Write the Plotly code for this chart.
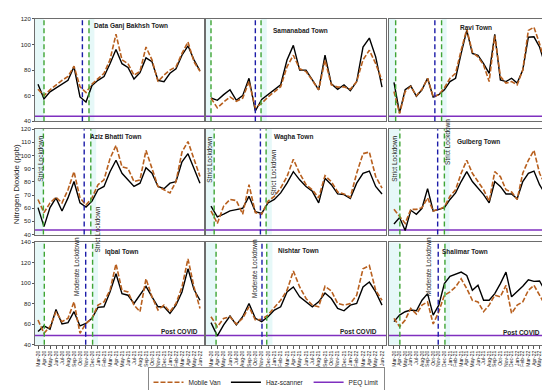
import plotly.graph_objects as go

# ---------------- data ----------------
months = ["Mar-20", "Apr-20", "May-20", "Jun-20", "Jul-20", "Aug-20", "Sep-20", "Oct-20",
          "Nov-20", "Dec-20", "Jan-21", "Feb-21", "Mar-21", "Apr-21", "May-21", "Jun-21",
          "Jul-21", "Aug-21", "Sep-21", "Oct-21", "Nov-21", "Dec-21", "Jan-22", "Feb-22",
          "Mar-22", "Apr-22", "May-22", "Jun-22"]

towns = ["Data Ganj Bakhsh Town", "Samanabad Town", "Ravi Town",
         "Aziz Bhatti Town", "Wagha Town", "Gulberg Town",
         "Iqbal Town", "Nishtar Town", "Shalimar Town"]

van_dgb = [65, 60, 64.6, 68.5, 72, 75, 83, 67, 62.5, 69, 73.6, 77.5, 88, 108, 88, 85, 76, 79,
           98, 88, 71, 76, 80, 82.6, 93, 102, 86.5, 79]
haz_dgb = [69, 57.5, 63, 66, 69, 72, 82.6, 59, 55, 68, 72, 75, 85, 96, 85, 82, 73, 78,
           89.5, 86.5, 72, 71, 77.5, 81, 91.6, 99, 88, 79.5]

van_sam = [58, 50.5, 55, 59, 55.6, 58, 71, 50.5, 54, 59, 63, 67, 82.6, 91.6, 81, 78.8, 72,
           64.6, 87.8, 68.5, 66.7, 67, 65, 71, 88, 95.5, 85, 72]
haz_sam = [58.2, 56.4, 60.8, 64.6, 56.4, 60, 73.6, 48, 57, 60.8, 64.6, 68.5, 87.8, 99.3, 80,
           80, 72.3, 64.6, 91.6, 69.3, 65, 68.5, 63.9, 71, 98, 105, 90.3, 66.7]

van_ravi = [63.3, 46, 63.3, 67.2, 60, 65, 73.6, 59, 60.8, 66, 73.6, 77.5, 95.5, 112, 94,
            90.3, 84, 71, 107, 75, 69.8, 71, 68.5, 80, 111, 113.5, 100.6, 85]
haz_ravi = [70.3, 46.6, 64.6, 67.7, 59.5, 64.6, 73.6, 59, 60.8, 64.6, 71, 73.6, 93, 111, 93,
            91.6, 85, 77.5, 108, 72.3, 71, 73.6, 69.8, 80, 105.7, 106, 98, 84]

van_aziz = [66.6, 56.6, 64, 68.3, 64, 74, 87.7, 67.8, 62.4, 67.8, 77.8, 81.5, 97.6, 107.6,
            91.4, 90.2, 80.2, 81.5, 103.9, 90.2, 76.5, 74, 71.5, 80.2, 102.6, 110.6, 97.6, 84]
haz_aziz = [60.4, 46, 60.4, 67.8, 57.9, 67.8, 80.2, 64, 60.9, 65.3, 74, 76.5, 87.7, 96.4,
            86.5, 81.5, 76.5, 79, 90.7, 86.5, 76.5, 74.8, 79, 80.2, 95.2, 101.4, 90.2, 79]

van_wagha = [57.9, 48.4, 61.6, 66.6, 65.8, 55.4, 77.8, 56.6, 55.4, 65.3, 69, 75.3, 84, 97.1,
             86.5, 77.8, 74, 67.8, 84.7, 80.2, 72.3, 70.8, 68.3, 86.5, 101.4, 102.6, 84, 75.3]
haz_wagha = [61.6, 53.4, 55.4, 57.9, 58.9, 59.9, 69, 57.4, 56, 64, 66.6, 71.6, 79, 87.7,
             81.5, 76.5, 72.8, 64, 82.7, 77.8, 70.8, 70.3, 67.3, 79, 86.5, 88.2, 76.5, 70.8]

van_gul = [59.1, 53.4, 48.4, 59.1, 59.1, 60.4, 67.8, 57.9, 59.1, 60.9, 69, 74, 86.5, 96.4,
           86.5, 80.2, 74, 65.3, 87.7, 84, 74, 72.3, 66.6, 86.5, 96.4, 103.9, 86.5, 77.8]
haz_gul = [48, 52.9, 43, 58.4, 55.4, 59.9, 74.8, 57.9, 59.1, 60.4, 66.6, 71.6, 80.2, 87.7,
           80.2, 75.3, 70.3, 64, 80.2, 76.5, 70.8, 70.8, 67.1, 80.2, 86.5, 88.2, 77.8, 70.8]

van_iqbal = [64.2, 51.3, 57.7, 72.3, 62.6, 65.8, 81.9, 51.3, 61, 65.8, 78.7, 81.9, 93.2, 119,
             93.2, 91.6, 78.7, 72.3, 104.5, 86.8, 73.9, 78.7, 72.3, 80.3, 96.5, 123.9, 96.5, 75.5]
haz_iqbal = [52.9, 58.4, 55.2, 74.5, 60.3, 61.6, 72.3, 58.4, 61, 65.8, 76.5, 77.1, 91.6,
             109.4, 90, 88.4, 80.3, 88.4, 97.1, 86.8, 77.1, 77.1, 70.6, 78.7, 91.6, 114.2, 93.9, 83.5]

van_nish = [67.4, 57.7, 65.8, 67.4, 60.3, 65.8, 77.1, 64.2, 64.8, 69, 76.5, 83.5, 93.2, 112,
            96.5, 85.2, 78.7, 77.1, 97.1, 92.6, 80.3, 78.7, 80.3, 88.4, 114.2, 117.4, 93.2, 83.5]
haz_nish = [61.6, 48.7, 59.4, 68.1, 59.4, 67.4, 80.3, 65.8, 62.6, 67.4, 73.9, 77.1, 91.6,
            96.5, 86.8, 81.9, 77.1, 81.9, 90.6, 85.2, 75.5, 73.2, 78.7, 80.3, 96.5, 101.3, 91.6, 78.7]

van_shal = [65.8, 57.7, 64.2, 75.5, 70, 78.7, 81.9, 60.3, 72.3, 88.4, 91.6, 96.5, 104.5, 94.8,
            83.5, 81.9, 72.3, 78.7, 88.4, 86.8, 98.1, 70.6, 78.7, 81.9, 93.2, 98.1, 88.4, 78.7]
haz_shal = [62.6, 69, 72.3, 73.9, 73.2, 83.5, 90, 69, 78.7, 99.7, 106.8, 108.7, 111, 107.7,
            93.2, 98.1, 83.5, 83.5, 90, 99.7, 111, 86.8, 91.6, 97.1, 103.5, 101.9, 102.3, 92.6]

mobile_van = [van_dgb, van_sam, van_ravi, van_aziz, van_wagha, van_gul, van_iqbal, van_nish, van_shal]
haz_scanner = [haz_dgb, haz_sam, haz_ravi, haz_aziz, haz_wagha, haz_gul, haz_iqbal, haz_nish, haz_shal]

peq_limit = [44, 44, 44, 43.5, 43.5, 43.5, 49, 49, 49]

# lockdown event positions (month index) per panel
strict_start = [1.0, 0.0, 0.3, 0.9, 0.5, 1.05, 1.05, 0.8, 1.05]
moderate_line = [7.4, 7.0, 7.3, 7.7, 7.8, 7.8, 7.95, 8.05, 7.9]
strict_end = [8.5, 7.9, 8.5, 8.8, 8.7, 9.0, 9.1, 8.8, 9.1]

# ---------------- layout helpers ----------------
W, H = 550, 390
col_px = [(27, 196), (198, 378), (381, 545)]
col_rng = [(-0.5, 27.67), (-0.79, 27.63), (-0.89, 28.4)]
row_px = [(8, 112), (120, 227), (235, 339)]
row_rng = [(40, 120), (40, 120), (40, 140)]
row_dtick = [20, 10, 20]

VAN_C = "#B8601F"
HAZ_C = "#000000"
PEQ_C = "#7F2FBF"
GREEN_C = "#3FA535"
BLUE_C = "#1C1CA8"
FONT = "Liberation Sans, Arial, sans-serif"

fig = go.Figure()
shapes = []
annotations = []
x_idx = list(range(len(months)))

for i in range(9):
    r, c = divmod(i, 3)
    ax = "" if i == 0 else str(i + 1)
    xa, ya = "x" + ax, "y" + ax
    x0, x1 = col_px[c]
    y0, y1 = row_px[r]
    fig.update_layout(**{
        "xaxis" + ax: dict(
            domain=[x0 / W, x1 / W], range=list(col_rng[c]), anchor=ya,
            showline=True, mirror=True, linecolor="#6d6d6d", linewidth=1,
            showgrid=False, zeroline=False,
            tickmode="array", tickvals=x_idx,
            ticktext=months if r == 2 else [""] * len(months),
            showticklabels=(r == 2), tickangle=-90,
            ticks="outside" if r == 2 else "", ticklen=3, tickcolor="#555",
            tickfont=dict(size=5, color="#222", family=FONT),
        ),
        "yaxis" + ax: dict(
            domain=[1 - y1 / H, 1 - y0 / H], range=list(row_rng[r]), anchor=xa,
            showline=True, mirror=True, linecolor="#6d6d6d", linewidth=1,
            showgrid=False, zeroline=False, dtick=row_dtick[r], tick0=40,
            showticklabels=(c == 0), ticks="outside" if c == 0 else "",
            ticklen=2, tickcolor="#555",
            tickfont=dict(size=6, color="#222", family=FONT),
        ),
    })

    # light cyan lockdown bands
    shapes.append(dict(type="rect", xref=xa, yref=ya + " domain", x0=col_rng[c][0],
                       x1=strict_start[i], y0=0, y1=1, fillcolor="#E6F8F8",
                       line_width=0, layer="below"))
    shapes.append(dict(type="rect", xref=xa, yref=ya + " domain", x0=strict_end[i],
                       x1=strict_end[i] + 0.9, y0=0, y1=1, fillcolor="#E6F8F8",
                       line_width=0, layer="below"))

    # PEQ limit
    fig.add_trace(go.Scatter(x=[col_rng[c][0], col_rng[c][1]], y=[peq_limit[i]] * 2,
                             mode="lines", line=dict(color=PEQ_C, width=1.5),
                             name="PEQ Limit", showlegend=(i == 0), legendrank=3,
                             xaxis=xa, yaxis=ya))
    # Haz-scanner
    fig.add_trace(go.Scatter(x=x_idx, y=haz_scanner[i], mode="lines",
                             line=dict(color=HAZ_C, width=1.4),
                             name="Haz-scanner", showlegend=(i == 0), legendrank=2,
                             xaxis=xa, yaxis=ya))
    # Mobile van
    fig.add_trace(go.Scatter(x=x_idx, y=mobile_van[i], mode="lines",
                             line=dict(color=VAN_C, width=1.6, dash="5px,2px"),
                             name="Mobile Van", showlegend=(i == 0), legendrank=1,
                             xaxis=xa, yaxis=ya))

    # event lines
    for xv, col in ((strict_start[i], GREEN_C), (moderate_line[i], BLUE_C), (strict_end[i], GREEN_C)):
        shapes.append(dict(type="line", xref=xa, yref=ya + " domain", x0=xv, x1=xv,
                           y0=0, y1=1, line=dict(color=col, width=1.4, dash="5px,3px")))

# ---------------- text ----------------
def ann(text, px, py, size=7, angle=0, color="#222"):
    annotations.append(dict(text=text, x=px / W, y=1 - py / H, xref="paper", yref="paper",
                            showarrow=False, textangle=angle, xanchor="center",
                            yanchor="middle", font=dict(size=size, color=color, family=FONT)))

title_pos = [(123, 15), (292, 20), (468, 17), (108, 127), (285, 128), (470, 133),
             (113, 245), (290, 243), (457, 244)]
for t, (px, py) in zip(towns, title_pos):
    ann("<b>" + t + "</b>", px, py, size=6.5)

for px, py in [(33, 150), (90, 222), (202, 151), (265, 164), (387, 150), (440, 133)]:
    ann("Strict Lockdown", px, py, size=6.5, angle=-90)
for px, py in [(68, 260), (247, 262), (420, 260)]:
    ann("Moderate Lockdown", px, py, size=6.5, angle=-90)
for px, py in [(171, 325), (350, 325), (513, 327)]:
    ann("<b>Post COVID</b>", px, py, size=6.5)

ann("Nitrogen Dioxide (ppb)", 8, 176, size=8, angle=-90)

fig.update_layout(
    width=W, height=H, margin=dict(l=0, r=0, t=0, b=0),
    paper_bgcolor="white", plot_bgcolor="white",
    shapes=shapes, annotations=annotations,
    showlegend=True,
    legend=dict(orientation="h", x=258 / W, xanchor="center", y=1 - 377 / H,
                yanchor="middle", bordercolor="#888", borderwidth=1,
                font=dict(size=6.5, color="#222", family=FONT),
                itemwidth=30, tracegroupgap=0, bgcolor="white"),
)

fig.write_html("out.html")
